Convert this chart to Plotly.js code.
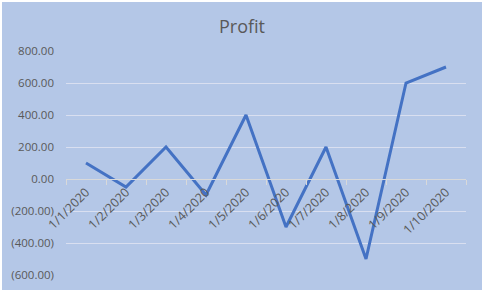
<!DOCTYPE html>
<html><head><meta charset="utf-8">
<script src="https://cdn.plot.ly/plotly-3.0.1.min.js"></script>
<style>
html,body{margin:0;padding:0;background:#fff;}
#chart{position:absolute;left:2px;top:2px;width:480px;height:288px;}
</style></head>
<body><div id="chart"></div>
<script>
const dates = ["1/1/2020","1/2/2020","1/3/2020","1/4/2020","1/5/2020","1/6/2020","1/7/2020","1/8/2020","1/9/2020","1/10/2020"];
const profit = [100, -50, 200, -100, 400, -300, 200, -500, 600, 700];
const yTickVals = [-600, -400, -200, 0, 200, 400, 600, 800];
const yTickText = ["(600.00)","(400.00)","(200.00)","0.00","200.00","400.00","600.00","800.00"];
const yMin = -600, yMax = 800;

const txt = '#595959';
Plotly.newPlot('chart', [{
  x: dates, y: profit, type: 'scatter', mode: 'lines',
  line: {color: '#4472c4', width: 3}
}], {
  width: 480, height: 288,
  paper_bgcolor: '#b4c7e7', plot_bgcolor: 'rgba(0,0,0,0)',
  margin: {l: 64, r: 16, t: 49, b: 15},
  showlegend: false,
  title: {text: 'Profit', x: 0.5, xanchor: 'center', y: 0.915, yanchor: 'middle',
          font: {family: 'Open Sans, sans-serif', size: 18, color: txt}},
  font: {family: 'Open Sans, sans-serif', size: 11.5, color: txt},
  xaxis: {
    type: 'category', anchor: 'free', position: (0 - yMin) / (yMax - yMin),
    range: [-0.5, dates.length - 0.5],
    showgrid: false, showline: true, linecolor: '#d9d9d9', linewidth: 1,
    ticks: 'outside', tickson: 'boundaries', ticklen: 5, tickcolor: '#d9d9d9',
    tickangle: -45, tickfont: {size: 12.5, color: txt}, zeroline: false
  },
  yaxis: {
    range: [yMin, yMax], tickvals: yTickVals, ticktext: yTickText,
    showgrid: true, gridcolor: '#d9dff0', gridwidth: 1, zeroline: false,
    showline: false, ticks: '', ticklabelstandoff: 11,
    tickfont: {size: 11.5, color: txt}
  }
}, {displayModeBar: false, staticPlot: true});
</script></body></html>
